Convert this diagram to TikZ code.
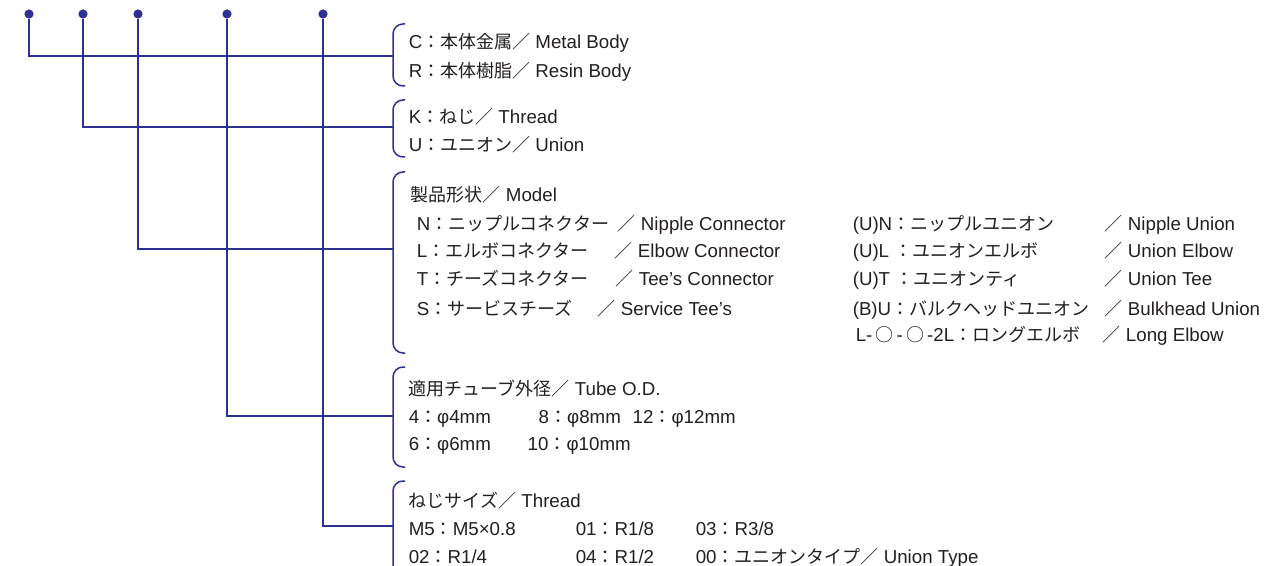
\documentclass[tikz,border=0pt]{standalone}
\usepackage{fontspec}
\setmainfont[Scale=1.04]{Liberation Sans}
\newfontfamily\jpfont{Noto Sans CJK JP}
\newcommand{\jt}[1]{{\jpfont #1}}
\definecolor{navy}{RGB}{46,49,146}
\definecolor{ink}{RGB}{35,31,32}
\begin{document}
\begin{tikzpicture}[x=0.5pt,y=-0.5pt,every node/.style={font=\fontsize{9}{11}\selectfont,text=ink},line width=0.75pt]
\tikzset{dot/.style={circle,fill=navy,inner sep=0pt,minimum size=4.6pt}, txt/.style={anchor=base west,inner sep=0pt}, brk/.style={draw=navy,rounded corners=5pt}, lead/.style={draw=navy}}
\useasboundingbox (0,0) rectangle (1267,566);
% code position dots
\node[dot] (dbody) at (29,14) {};
\node[dot] (dconn) at (83,14) {};
\node[dot] (dmodel) at (138,14) {};
\node[dot] (dtube) at (227,14) {};
\node[dot] (dthread) at (323,14) {};
% brackets
\draw[brk] (405,24) -- (393,24) -- (393,86) -- (405,86);
\draw[brk] (405,100) -- (393,100) -- (393,157) -- (405,157);
\draw[brk] (405,172) -- (393,172) -- (393,353) -- (405,353);
\draw[brk] (405,367) -- (393,367) -- (393,467) -- (405,467);
\draw[brk] (405,481) -- (393,481) -- (393,610) -- (405,610);
\coordinate (jbody) at (393,56);
\coordinate (jconn) at (393,127);
\coordinate (jmodel) at (393,249);
\coordinate (jtube) at (393,416);
\coordinate (jthread) at (393,526);
% body material
\node[txt] (bodyC) at (408,49) {C\jt{：本体金属／} Metal Body};
\node[txt] (bodyR) at (408,78) {R\jt{：本体樹脂／} Resin Body};
% connection
\node[txt] (connK) at (408,124) {K\jt{：ねじ／} Thread};
\node[txt] (connU) at (408,152) {U\jt{：ユニオン／} Union};
% model
\node[txt] (modeltitle) at (410,202) {\jt{製品形状／} Model};
\node[txt] (modelN) at (416,231) {\makebox[100.5pt][l]{N\jt{：ニップルコネクター}}\jt{／} Nipple Connector};
\node[txt] (modelL) at (416,258) {\makebox[99pt][l]{L\jt{：エルボコネクター}}\jt{／} Elbow Connector};
\node[txt] (modelT) at (416,286) {\makebox[99.5pt][l]{T\jt{：チーズコネクター}}\jt{／} Tee's Connector};
\node[txt] (modelS) at (416,315) {\makebox[90.5pt][l]{S\jt{：サービスチーズ}}\jt{／} Service Tee's};
\node[txt] (modelUN) at (852,231) {\makebox[126pt][l]{(U)N\jt{：ニップルユニオン}}\jt{／} Nipple Union};
\node[txt] (modelUL) at (852,258) {\makebox[126pt][l]{(U)L \jt{：ユニオンエルボ}}\jt{／} Union Elbow};
\node[txt] (modelUT) at (852,286) {\makebox[126pt][l]{(U)T \jt{：ユニオンティ}}\jt{／} Union Tee};
\node[txt] (modelBU) at (852,315) {\makebox[126pt][l]{(B)U\jt{：バルクヘッドユニオン}}\jt{／} Bulkhead Union};
\node[txt] (modelLL) at (855,342) {\makebox[123.5pt][l]{L-\,\jt{○}\,-\,\jt{○}\,-2L\jt{：ロングエルボ}}\jt{／} Long Elbow};
% tube size
\node[txt] (tubetitle) at (408,395) {\jt{適用チューブ外径／} Tube O.D.};
\node[txt] (tube4) at (408,423) {\makebox[65pt][l]{4\jt{：}φ4mm}\makebox[47pt][l]{8\jt{：}φ8mm}12\jt{：}φ12mm};
\node[txt] (tube6) at (408,450) {\makebox[59.5pt][l]{6\jt{：}φ6mm}10\jt{：}φ10mm};
% thread size
\node[txt] (threadtitle) at (408,507) {\jt{ねじサイズ／} Thread};
\node[txt] (threadM5) at (408,535) {\makebox[83.5pt][l]{M5\jt{：}M5×0.8}\makebox[60pt][l]{01\jt{：}R1/8}03\jt{：}R3/8};
\node[txt] (thread02) at (408,563) {\makebox[83.5pt][l]{02\jt{：}R1/4}\makebox[60pt][l]{04\jt{：}R1/2}00\jt{：ユニオンタイプ／} Union Type};
% leaders
\draw[lead] (dbody) |- (jbody);
\draw[lead] (dconn) |- (jconn);
\draw[lead] (dmodel) |- (jmodel);
\draw[lead] (dtube) |- (jtube);
\draw[lead] (dthread) |- (jthread);
\end{tikzpicture}
\end{document}
